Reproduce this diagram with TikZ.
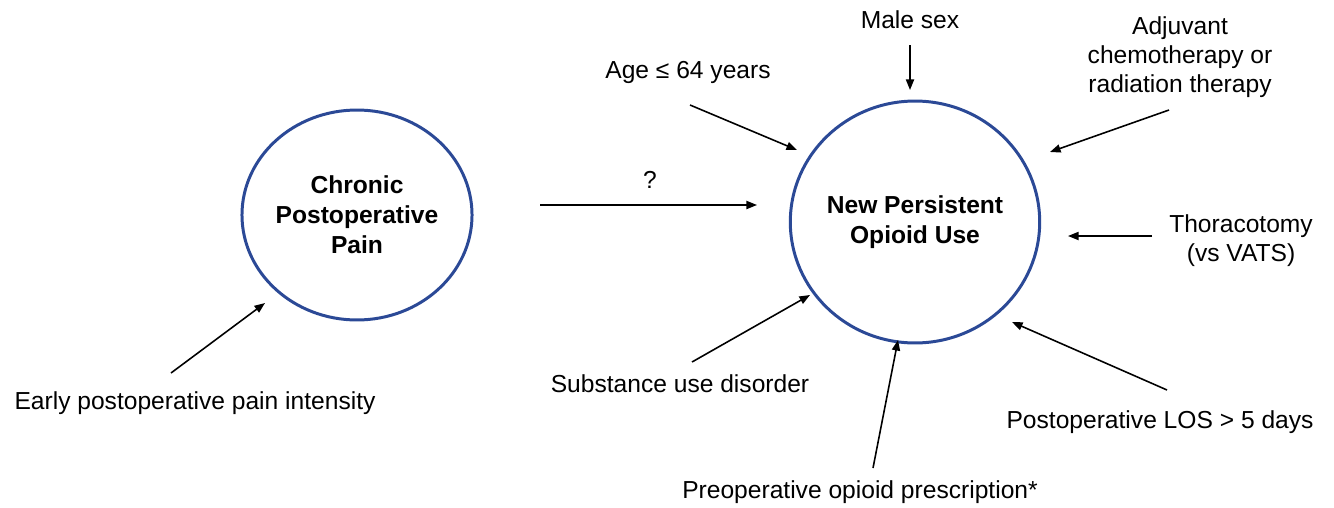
\documentclass[tikz,border=0pt]{standalone}
\usepackage{fontspec}
\setmainfont{Liberation Sans}
\usepackage{tikz}
\usetikzlibrary{arrows.meta}
\usetikzlibrary{shapes.geometric, positioning}

\definecolor{circblue}{RGB}{43,73,150}

\tikzset{
  factor/.style={align=center, font=\fontsize{14}{16.5}\selectfont, inner sep=1pt},
  outcome/.style={ellipse, draw=circblue, line width=1.7pt, align=center,
    font=\fontsize{14}{17}\selectfont\bfseries, inner sep=0pt},
  arr/.style={-{Triangle[length=6pt,width=4.6pt]}, line width=0.9pt}
}

\begin{document}
\begin{tikzpicture}[x=0.02cm, y=-0.02cm]
        \useasboundingbox (0,0) rectangle (1334,507);

        % Esiti
        \node[outcome, minimum width=4.42cm, minimum height=4.2cm] (cpp) at (357,215) {Chronic\\Postoperative\\Pain};
        \node[outcome, minimum width=4.9cm, minimum height=4.84cm] (npou) at (915,222) {New Persistent\\Opioid Use};

        % Fattori
        \node[factor] (age) at (688,72) {Age ≤ 64 years};
        \node[factor] (male) at (910,20) {Male sex};
        \node[factor] (adj) at (1180,57) {Adjuvant\\chemotherapy or\\radiation therapy};
        \node[factor] (thor) at (1241,241) {Thoracotomy\\(vs VATS)};
        \node[factor] (los) at (1160,422) {Postoperative LOS > 5 days};
        \node[factor] (preop) at (860,492) {Preoperative opioid prescription*};
        \node[factor] (sud) at (680,384) {Substance use disorder};
        \node[factor] (early) at (195,403) {Early postoperative pain intensity};
        \node[factor] (q) at (650,180) {?};

        % Estremi delle frecce
        \coordinate (q-t) at (540,205);   \coordinate (q-h) at (757,205);
        \coordinate (age-t) at (690,105); \coordinate (age-h) at (797,150);
        \coordinate (male-t) at (910,45); \coordinate (male-h) at (910,90);
        \coordinate (adj-t) at (1169,110); \coordinate (adj-h) at (1050,152);
        \coordinate (thor-t) at (1152,236); \coordinate (thor-h) at (1068,236);
        \coordinate (los-t) at (1167,390); \coordinate (los-h) at (1012,322);
        \coordinate (preop-t) at (873,468); \coordinate (preop-h) at (898,340);
        \coordinate (sud-t) at (692,362); \coordinate (sud-h) at (810,295);
        \coordinate (early-t) at (171,373); \coordinate (early-h) at (265,303);

        % Frecce
        \foreach \f in {q, age, male, adj, thor, los, preop, sud, early}
            \draw[arr] (\f-t) -- (\f-h);
\end{tikzpicture}
\end{document}
